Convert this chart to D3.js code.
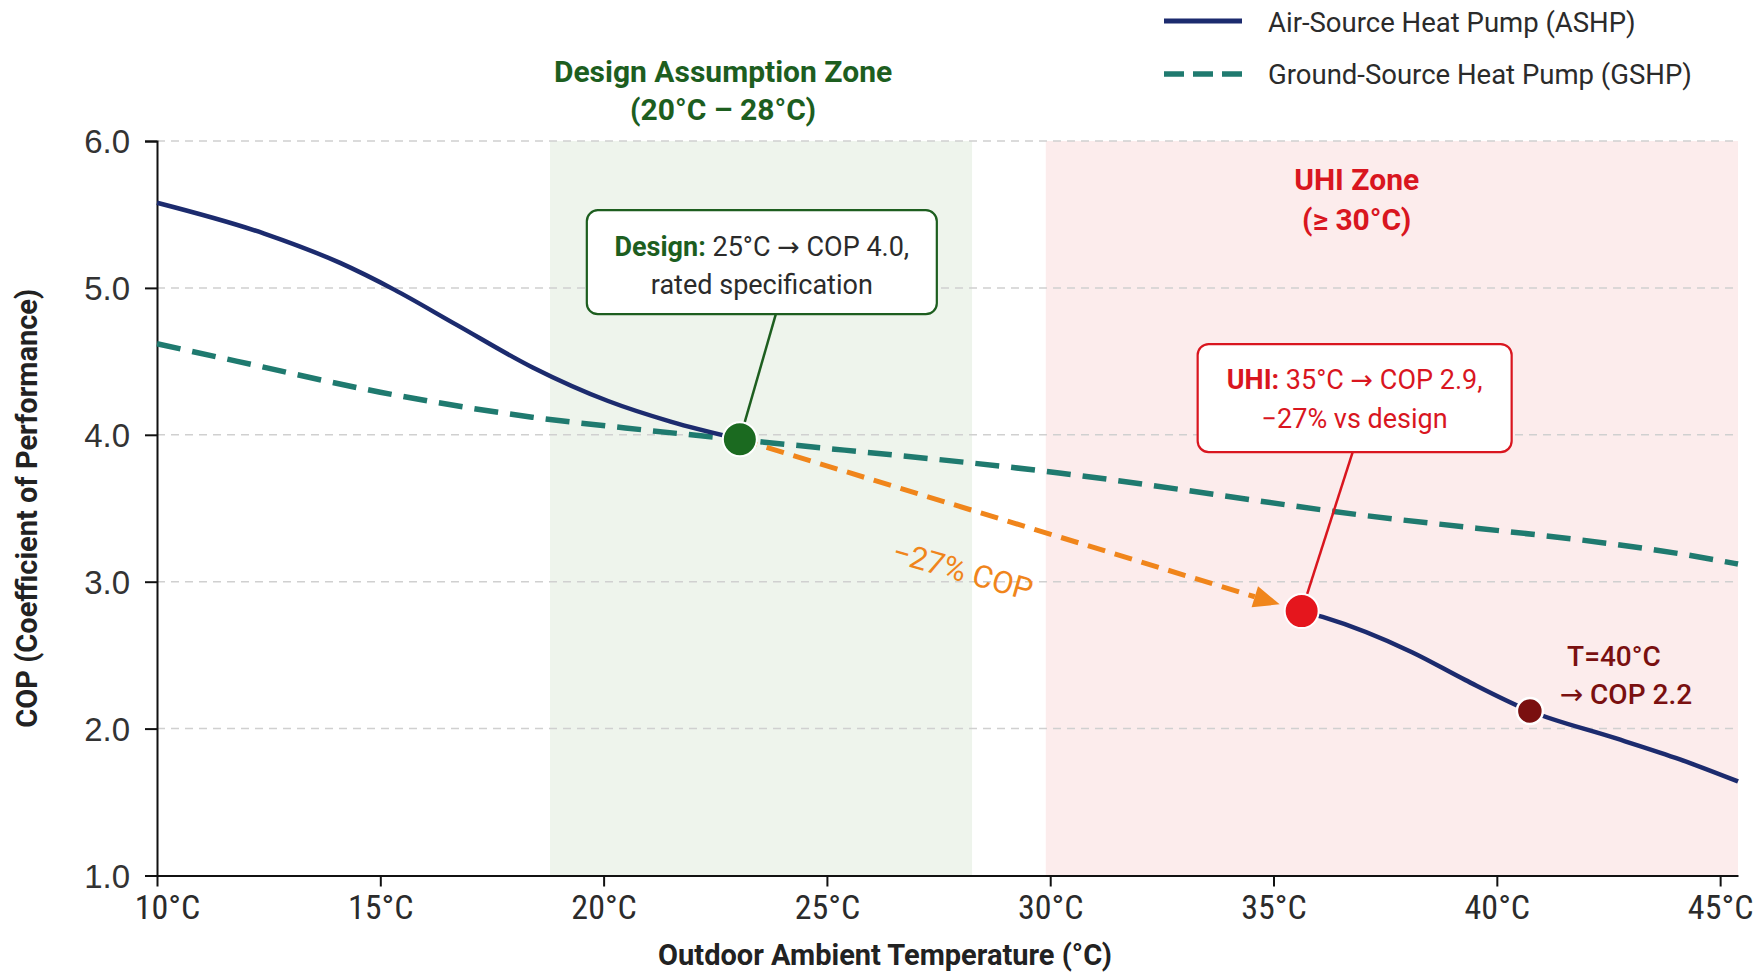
<!DOCTYPE html>
<html>
<head>
<meta charset="utf-8">
<script src="https://cdn.jsdelivr.net/npm/d3@7"></script>
<style>
  html, body { margin: 0; padding: 0; background: #ffffff; }
  svg { display: block; }
  .narrow { font-family: "Liberation Sans Narrow", "Roboto Condensed", "Arial Narrow", Roboto, sans-serif; }
  .rob { font-family: Roboto, "Noto Sans", sans-serif; }
  .arw { font-family: "DejaVu Sans", "Noto Sans", sans-serif; font-weight: normal; }
</style>
</head>
<body>
<svg id="chart" width="1760" height="976"></svg>
<script>
// ---------------- data ----------------
const xTicks = [10, 15, 20, 25, 30, 35, 40, 45];
const xTickLabels = ["10°C", "15°C", "20°C", "25°C", "30°C", "35°C", "40°C", "45°C"];
const yTicks = [1, 2, 3, 4, 5, 6];
const yTickLabels = ["1.0", "2.0", "3.0", "4.0", "5.0", "6.0"];

// ASHP (solid) – drawn in two segments (gap between design point and UHI point)
const ashpTemp = [10, 12.4, 14.1, 15.3, 16.7, 18.4, 20.1, 21.5, 23.05];
const ashpCop  = [5.58, 5.37, 5.17, 4.99, 4.75, 4.46, 4.23, 4.09, 3.97];
const ashpHotTemp = [35.63, 36.1, 38.1, 39.3, 40.74, 42.6, 44.1, 45.4];
const ashpHotCop  = [2.80, 2.76, 2.52, 2.33, 2.12, 1.94, 1.79, 1.64];

// GSHP (dashed)
const gshpTemp = [10, 11.8, 15, 18.4, 21, 23.6, 30.2, 36.3, 45.05, 45.4];
const gshpCop  = [4.62, 4.50, 4.29, 4.12, 4.03, 3.95, 3.74, 3.48, 3.14, 3.12];

// Zones
const designZone = [18.8, 28.25];
const uhiZone = [29.9, 45.4];

// Highlight points
const designPoint = { t: 23.05, cop: 3.97 };
const uhiPoint    = { t: 35.63, cop: 2.80 };
const hotPoint    = { t: 40.74, cop: 2.12 };

// ---------------- layout ----------------
const svg = d3.select("#chart");
const L = 157, R = 1738, T = 141, B = 875.5;
const x = d3.scaleLinear().domain([10, 45.4]).range([L, R]);
const y = d3.scaleLinear().domain([1, 6]).range([B, T]);

const C = {
  navy: "#1c2b6e", teal: "#1f7a6f", green: "#1d5e1f", greenDot: "#1b6a20",
  red: "#d9161f", redDot: "#e5161d", darkRed: "#7a1010", orange: "#f0851b",
  greenZone: "#eef4ec", pinkZone: "#fcecec", grid: "#d0d0d0", text: "#2b2b2b"
};

// zones
svg.append("rect").attr("x", x(designZone[0])).attr("y", T)
  .attr("width", x(designZone[1]) - x(designZone[0])).attr("height", B - T)
  .attr("fill", C.greenZone);
svg.append("rect").attr("x", x(uhiZone[0])).attr("y", T)
  .attr("width", x(uhiZone[1]) - x(uhiZone[0])).attr("height", B - T)
  .attr("fill", C.pinkZone);

// gridlines
svg.append("g").selectAll("line").data(yTicks.filter(d => d > 1)).join("line")
  .attr("x1", L).attr("x2", R).attr("y1", d => y(d)).attr("y2", d => y(d))
  .attr("stroke", C.grid).attr("stroke-width", 1.5).attr("stroke-dasharray", "8 6");

// axes
const yAxis = svg.append("g").attr("transform", `translate(${L},0)`)
  .call(d3.axisLeft(y).tickValues(yTicks).tickFormat((d, i) => yTickLabels[i]).tickSize(12).tickPadding(15));
yAxis.select(".domain").attr("stroke", "#111").attr("stroke-width", 2);
yAxis.selectAll(".tick line").attr("stroke", "#111").attr("stroke-width", 2);
yAxis.selectAll(".tick text").attr("font-family", "'Liberation Sans', Arial, sans-serif")
  .attr("font-size", 33).attr("fill", "#333").attr("dy", "0.36em");

const xAxis = svg.append("g").attr("transform", `translate(0,${B})`)
  .call(d3.axisBottom(x).tickValues(xTicks).tickFormat((d, i) => xTickLabels[i]).tickSize(11).tickSizeOuter(0));
xAxis.select(".domain").attr("stroke", "#111").attr("stroke-width", 2);
xAxis.selectAll(".tick line").attr("stroke", "#111").attr("stroke-width", 2);
xAxis.selectAll(".tick text").attr("class", "narrow")
  .attr("font-size", 34).attr("fill", "#2b2b2b").attr("y", 43).attr("dy", 0)
  .attr("dx", (d, i) => i === 0 ? 10 : 0);

// axis titles
svg.append("text").attr("class", "rob").attr("x", 885).attr("y", 965)
  .attr("text-anchor", "middle").attr("font-size", 29).attr("font-weight", "bold").attr("fill", "#222")
  .text("Outdoor Ambient Temperature (°C)");
svg.append("text").attr("class", "rob")
  .attr("transform", `translate(37,${(T + B) / 2}) rotate(-90)`)
  .attr("text-anchor", "middle").attr("font-size", 29).attr("font-weight", "bold").attr("fill", "#222")
  .text("COP (Coefficient of Performance)");

// lines
const line = d3.line().x(d => x(d[0])).y(d => y(d[1])).curve(d3.curveMonotoneX);
const gshp = gshpTemp.map((t, i) => [t, gshpCop[i]]);
const ashpA = ashpTemp.map((t, i) => [t, ashpCop[i]]);
const ashpB = ashpHotTemp.map((t, i) => [t, ashpHotCop[i]]);

svg.append("path").attr("d", line(gshp)).attr("fill", "none")
  .attr("stroke", C.teal).attr("stroke-width", 5.5).attr("stroke-dasharray", "24 12");
svg.append("path").attr("d", line(ashpA)).attr("fill", "none")
  .attr("stroke", C.navy).attr("stroke-width", 4.5);
svg.append("path").attr("d", line(ashpB)).attr("fill", "none")
  .attr("stroke", C.navy).attr("stroke-width", 4.5);

// orange arrow from design to UHI point
const p0 = [x(designPoint.t), y(designPoint.cop)];
const p1 = [x(uhiPoint.t), y(uhiPoint.cop)];
const ang = Math.atan2(p1[1] - p0[1], p1[0] - p0[0]);
const tip = [p1[0] - Math.cos(ang) * 23, p1[1] - Math.sin(ang) * 23];
const headLen = 26, headW = 11;
const base = [tip[0] - Math.cos(ang) * headLen, tip[1] - Math.sin(ang) * headLen];
svg.append("line").attr("x1", p0[0]).attr("y1", p0[1]).attr("x2", base[0]).attr("y2", base[1])
  .attr("stroke", C.orange).attr("stroke-width", 5).attr("stroke-dasharray", "18 10");
svg.append("path")
  .attr("d", `M${tip[0]},${tip[1]} L${base[0] - Math.sin(ang) * headW},${base[1] + Math.cos(ang) * headW} L${base[0] + Math.sin(ang) * headW},${base[1] - Math.cos(ang) * headW} Z`)
  .attr("fill", C.orange);
const mid = [(p0[0] + p1[0]) / 2, (p0[1] + p1[1]) / 2];
svg.append("text").attr("class", "rob")
  .attr("transform", `translate(${mid[0] - 61},${mid[1] + 56}) rotate(16)`)
  .attr("text-anchor", "middle").attr("font-size", 31).attr("fill", C.orange)
  .text("−27% COP");

// leader lines
svg.append("line").attr("x1", p0[0] + 36).attr("y1", p0[1] - 125).attr("x2", p0[0]).attr("y2", p0[1])
  .attr("stroke", C.green).attr("stroke-width", 2.5);
svg.append("line").attr("x1", p1[0] + 51).attr("y1", p1[1] - 159).attr("x2", p1[0]).attr("y2", p1[1])
  .attr("stroke", C.red).attr("stroke-width", 2.5);

// dots
svg.append("circle").attr("cx", p0[0]).attr("cy", p0[1]).attr("r", 17)
  .attr("fill", C.greenDot).attr("stroke", "#ffffff").attr("stroke-width", 2);
svg.append("circle").attr("cx", p1[0]).attr("cy", p1[1]).attr("r", 17)
  .attr("fill", C.redDot).attr("stroke", "#ffffff").attr("stroke-width", 2);
const ph = [x(hotPoint.t), y(hotPoint.cop)];
svg.append("circle").attr("cx", ph[0]).attr("cy", ph[1]).attr("r", 13)
  .attr("fill", C.darkRed).attr("stroke", "#ffffff").attr("stroke-width", 2.5);

// annotation boxes
function box(cx, top, w, h, stroke, lines) {
  const g = svg.append("g");
  g.append("rect").attr("x", cx - w / 2).attr("y", top).attr("width", w).attr("height", h)
    .attr("rx", 11).attr("fill", "#ffffff").attr("stroke", stroke).attr("stroke-width", 2.2);
  lines.forEach(l => {
    const t = g.append("text").attr("class", "rob").attr("x", cx).attr("y", top + l.dy)
      .attr("text-anchor", "middle").attr("font-size", 27);
    l.parts.forEach(p => t.append("tspan").attr("class", p.a ? "arw" : null)
      .attr("fill", p.c).attr("font-weight", p.b ? "bold" : "normal").text(p.s));
  });
}
box(p0[0] + 22, p0[1] - 229, 350, 104, C.green, [
  { dy: 46, parts: [{ s: "Design:", c: C.green, b: true }, { s: " 25°C ", c: C.text }, { s: "→", c: C.text, a: true }, { s: " COP 4.0,", c: C.text }] },
  { dy: 84, parts: [{ s: "rated specification", c: C.text }] }
]);
box(p1[0] + 53, p1[1] - 267, 314, 108, C.red, [
  { dy: 45, parts: [{ s: "UHI:", c: C.red, b: true }, { s: " 35°C ", c: C.red }, { s: "→", c: C.red, a: true }, { s: " COP 2.9,", c: C.red }] },
  { dy: 84, parts: [{ s: "−27% vs design", c: C.red }] }
]);

// hot point label
svg.append("text").attr("class", "rob").attr("x", ph[0] + 84).attr("y", ph[1] - 45)
  .attr("text-anchor", "middle").attr("font-size", 28).attr("font-weight", 500).attr("fill", C.darkRed)
  .text("T=40°C");
const hl = svg.append("text").attr("class", "rob").attr("x", ph[0] + 96).attr("y", ph[1] - 7)
  .attr("text-anchor", "middle").attr("font-size", 28).attr("font-weight", 500).attr("fill", C.darkRed);
hl.append("tspan").attr("class", "arw").text("→");
hl.append("tspan").text(" COP 2.2");

// zone titles
const dzc = x((designZone[0] + designZone[1]) / 2) - 38;
svg.append("text").attr("class", "rob").attr("x", dzc).attr("y", 82).attr("text-anchor", "middle")
  .attr("font-size", 30).attr("font-weight", "bold").attr("fill", C.green)
  .text("Design Assumption Zone");
svg.append("text").attr("class", "rob").attr("x", dzc).attr("y", 120).attr("text-anchor", "middle")
  .attr("font-size", 30).attr("font-weight", "bold").attr("fill", C.green)
  .text("(20°C – 28°C)");
const uzc = x(35.63) + 55;
svg.append("text").attr("class", "rob").attr("x", uzc).attr("y", 190).attr("text-anchor", "middle")
  .attr("font-size", 30).attr("font-weight", "bold").attr("fill", C.red)
  .text("UHI Zone");
svg.append("text").attr("class", "rob").attr("x", uzc).attr("y", 230).attr("text-anchor", "middle")
  .attr("font-size", 30).attr("font-weight", "bold").attr("fill", C.red)
  .text("(≥ 30°C)");

// legend
const lg = svg.append("g").attr("class", "rob");
lg.append("line").attr("x1", 1164).attr("x2", 1242).attr("y1", 21).attr("y2", 21)
  .attr("stroke", C.navy).attr("stroke-width", 5);
lg.append("line").attr("x1", 1164).attr("x2", 1242).attr("y1", 74).attr("y2", 74)
  .attr("stroke", C.teal).attr("stroke-width", 5.5).attr("stroke-dasharray", "20 9");
lg.append("text").attr("x", 1268).attr("y", 31.5).attr("font-size", 27.5).attr("fill", "#2b2b2b")
  .text("Air-Source Heat Pump (ASHP)");
lg.append("text").attr("x", 1268).attr("y", 83.5).attr("font-size", 27.5).attr("fill", "#2b2b2b")
  .text("Ground-Source Heat Pump (GSHP)");
</script>
</body>
</html>
